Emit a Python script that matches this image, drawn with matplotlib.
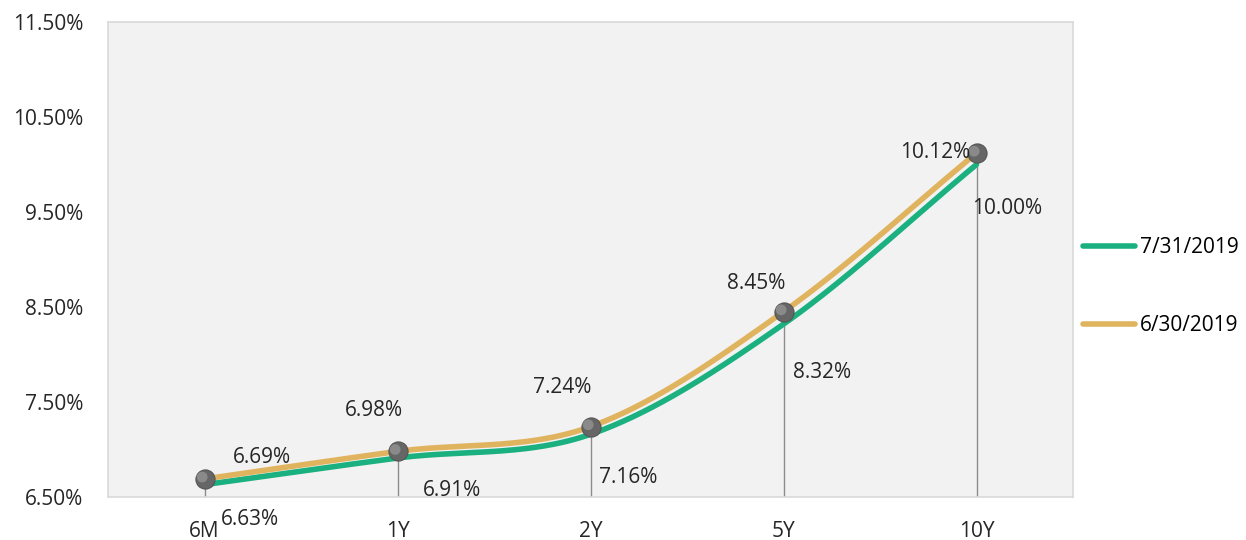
import numpy as np
import matplotlib
matplotlib.use('Agg')
import matplotlib.pyplot as plt
from matplotlib.ticker import FuncFormatter

plt.rcParams['font.family'] = ['Open Sans', 'DejaVu Sans']

#####################################################################
# data:
tenors = ['6M', '1Y', '2Y', '5Y', '10Y']
jul_2019 = [6.63, 6.91, 7.16, 8.32, 10.00]
jun_2019 = [6.69, 6.98, 7.24, 8.45, 10.12]
y_ticks = [6.5, 7.5, 8.5, 9.5, 10.5, 11.5]

# label offsets in pixels (layout only)
jun_offsets = [(57, 21), (-24, 41), (-28, 39), (-27, 28), (-41, 1)]
jul_offsets = [(45, -35), (55, -32), (38, -43), (39, -48), (31, -44)]

green = '#1bb07f'
gold = '#e0b35e'


def smooth(x, y, n=60):
    # catmull-rom spline through the points, like the spreadsheet smoothed line
    x = np.asarray(x, float)
    y = np.asarray(y, float)
    px = np.concatenate([[2 * x[0] - x[1]], x, [2 * x[-1] - x[-2]]])
    py = np.concatenate([[2 * y[0] - y[1]], y, [2 * y[-1] - y[-2]]])
    xs, ys = [], []
    t = np.linspace(0, 1, n)
    for i in range(1, len(px) - 2):
        for p, out in ((px, xs), (py, ys)):
            p0, p1, p2, p3 = p[i - 1], p[i], p[i + 1], p[i + 2]
            out.append(0.5 * ((2 * p1) + (-p0 + p2) * t
                              + (2 * p0 - 5 * p1 + 4 * p2 - p3) * t ** 2
                              + (-p0 + 3 * p1 - 3 * p2 + p3) * t ** 3))
    return np.concatenate(xs), np.concatenate(ys)


#####################################################################
# plot:
fig = plt.figure(figsize=(12.46, 5.4), dpi=100)
ax = fig.add_axes([108 / 1246, 43 / 540, 965 / 1246, 475 / 540])
ax.set_facecolor('#f2f2f2')

xpos = np.arange(len(tenors)) + 0.5

# drop lines
for x, v in zip(xpos, jun_2019):
    ax.plot([x, x], [6.5, v], color='#8c8c8c', lw=1, zorder=2)

sx, sy = smooth(xpos, jul_2019)
ax.plot(sx, sy, color=green, lw=4, solid_capstyle='round', label='7/31/2019', zorder=3)
sx, sy = smooth(xpos, jun_2019)
ax.plot(sx, sy, color=gold, lw=4, solid_capstyle='round', label='6/30/2019', zorder=4)

ax.scatter(xpos, jun_2019, s=190, color='#666666', edgecolor='#555555',
           linewidth=0.8, zorder=5)
ax.scatter(xpos - 0.012, np.array(jun_2019) + 0.02, s=60, color='#8a8a8a',
           edgecolor='none', zorder=6)

for x, v, off in zip(xpos, jun_2019, jun_offsets):
    ax.annotate(f'{v:.2f}%', (x, v), xytext=off, textcoords='offset pixels',
                ha='center', va='center', fontsize=15, color='#262626', zorder=7)
for x, v, off in zip(xpos, jul_2019, jul_offsets):
    ax.annotate(f'{v:.2f}%', (x, v), xytext=off, textcoords='offset pixels',
                ha='center', va='center', fontsize=15, color='#262626', zorder=7)

#####################################################################
# format:
ax.set_xlim(0, len(tenors))
ax.set_ylim(6.5, 11.5)
ax.set_xticks(xpos)
ax.set_xticklabels(tenors)
ax.set_yticks(y_ticks)
ax.yaxis.set_major_formatter(FuncFormatter(lambda v, p: f'{v:.2f}%'))
ax.tick_params(axis='both', length=0, labelsize=15, colors='#262626')
ax.tick_params(axis='x', pad=17)
ax.tick_params(axis='y', pad=18)
for s in ax.spines.values():
    s.set_color('#d9d9d9')
    s.set_linewidth(1.2)

leg = fig.legend(loc='center left', bbox_to_anchor=(1083 / 1246, 0.469),
                 frameon=False, fontsize=15, handlelength=2.5, handletextpad=0.25,
                 labelspacing=2.75, borderpad=0, borderaxespad=0)
for line in leg.get_lines():
    line.set_linewidth(4)
    line.set_solid_capstyle('round')

fig.savefig('out.png', dpi=100)
